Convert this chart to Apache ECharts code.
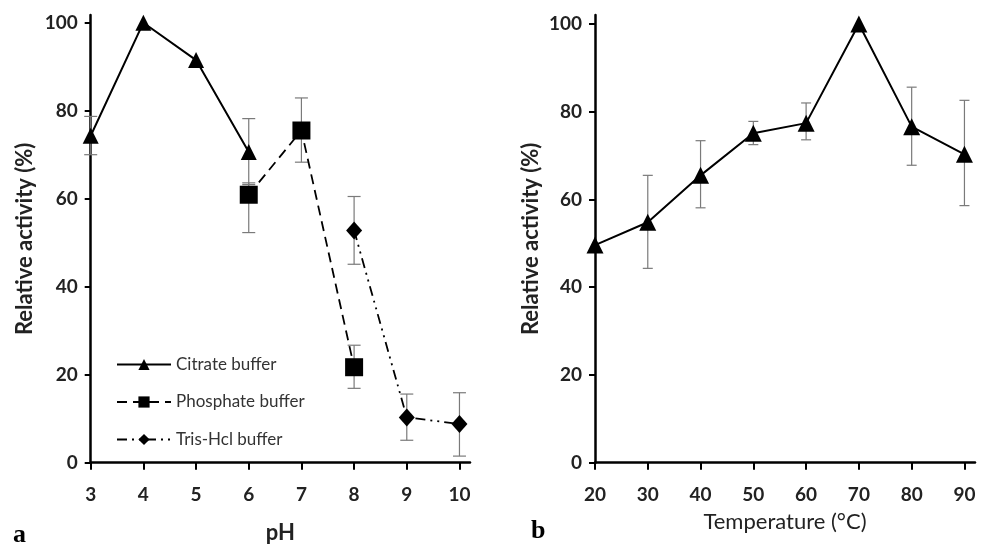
<!DOCTYPE html>
<html lang="en">
<head>
    <meta charset="UTF-8">
    <title>Relative activity vs pH and temperature</title>
    <script src="https://cdn.jsdelivr.net/npm/echarts/dist/echarts.min.js"></script>
    <style>
        html, body { margin: 0; padding: 0; background: #fff; }
        #chart { width: 986px; height: 545px; }
    </style>
</head>
<body>
<div id="chart"></div>

<script>
    // panel a: pH
    const citratePH = [3, 4, 5, 6];
    const citrateVal = [74.3, 100, 91.5, 70.6];
    const citrateLow = [70, 100, 91.5, 63.2];
    const citrateHigh = [78.7, 100, 91.5, 78.2];

    const phosphatePH = [6, 7, 8];
    const phosphateVal = [60.9, 75.5, 21.7];
    const phosphateLow = [52.3, 68.3, 16.9];
    const phosphateHigh = [63.6, 82.9, 26.7];

    const trisPH = [8, 9, 10];
    const trisVal = [52.8, 10.3, 8.8];
    const trisLow = [45.1, 5.1, 1.5];
    const trisHigh = [60.5, 15.6, 15.9];

    const phTicks = [3, 4, 5, 6, 7, 8, 9, 10];

    // panel b: temperature
    const temps = [20, 30, 40, 50, 60, 70, 80, 90];
    const tempVal = [49.6, 54.8, 65.5, 75.1, 77.4, 100, 76.6, 70.3];
    const tempLow = [49.6, 44.3, 58.1, 72.5, 73.6, 100, 67.8, 58.6];
    const tempHigh = [49.6, 65.5, 73.4, 77.8, 82.0, 100, 85.6, 82.6];

    const tempTicks = [20, 30, 40, 50, 60, 70, 80, 90];
    const activityTicks = [0, 20, 40, 60, 80, 100];

    const FONT = 'Lato, "Open Sans", sans-serif';

    function zip(xs, vs) {
        return xs.map((x, i) => [x, vs[i]]);
    }
    function errData(xs, lo, hi) {
        return xs.map((x, i) => [x, lo[i], hi[i]]);
    }

    function errorSeries(data, axisIdx, halfCap) {
        return {
            type: 'custom',
            xAxisIndex: axisIdx,
            yAxisIndex: axisIdx,
            z: 1,
            silent: true,
            data: data,
            encode: { x: 0, y: [1, 2] },
            renderItem: function (params, api) {
                const x = api.value(0);
                const lo = api.coord([x, api.value(1)]);
                const hi = api.coord([x, api.value(2)]);
                if (Math.abs(lo[1] - hi[1]) < 1) return null;
                const st = { stroke: '#7a7a7a', lineWidth: 1.2 };
                return {
                    type: 'group',
                    children: [
                        { type: 'line', shape: { x1: lo[0], y1: lo[1], x2: hi[0], y2: hi[1] }, style: st },
                        { type: 'line', shape: { x1: lo[0] - halfCap, y1: lo[1], x2: lo[0] + halfCap, y2: lo[1] }, style: st },
                        { type: 'line', shape: { x1: hi[0] - halfCap, y1: hi[1], x2: hi[0] + halfCap, y2: hi[1] }, style: st }
                    ]
                };
            }
        };
    }

    function yAxisCfg(gridIdx, max, nameGap) {
        return {
            type: 'value',
            gridIndex: gridIdx,
            min: 0,
            max: max,
            name: 'Relative activity (%)',
            nameLocation: 'middle',
            nameGap: nameGap,
            nameTextStyle: { fontFamily: FONT, fontSize: 22, fontWeight: 'bold', color: '#222' },
            splitLine: { show: false },
            axisLine: { show: true, lineStyle: { color: '#000', width: 2.5 } },
            axisTick: { show: true, length: 6, customValues: activityTicks, lineStyle: { color: '#000', width: 2 } },
            axisLabel: { customValues: activityTicks, margin: 13, fontFamily: FONT, fontSize: 19, fontWeight: 'bold', color: '#222' }
        };
    }

    const chart = echarts.init(document.getElementById('chart'));
    const option = {
        backgroundColor: '#fff',
        animation: false,
        grid: [
            { left: 90.7, top: 15, width: 379.3, height: 447.7, outerBoundsMode: 'none' },
            { left: 595, top: 15, width: 380, height: 447.7, outerBoundsMode: 'none' }
        ],
        legend: {
            left: 111,
            top: 351,
            orient: 'vertical',
            itemWidth: 54,
            itemHeight: 14,
            itemGap: 20.5,
            textStyle: { fontFamily: FONT, fontSize: 17, color: '#333' },
            data: ['Citrate buffer', 'Phosphate buffer', 'Tris-Hcl buffer']
        },
        xAxis: [
            {
                type: 'value',
                gridIndex: 0,
                min: 3,
                max: 10.2,
                name: 'pH',
                nameLocation: 'middle',
                nameGap: 59,
                nameTextStyle: { fontFamily: FONT, fontSize: 22, fontWeight: 'bold', color: '#222' },
                splitLine: { show: false },
                axisLine: { lineStyle: { color: '#000', width: 2.5 } },
                axisTick: { length: 7, customValues: phTicks, lineStyle: { color: '#000', width: 2 } },
                axisLabel: { customValues: phTicks, margin: 23, fontFamily: FONT, fontSize: 19, fontWeight: 'bold', color: '#222' }
            },
            {
                type: 'value',
                gridIndex: 1,
                min: 20,
                max: 92,
                name: 'Temperature (°C)',
                nameLocation: 'middle',
                nameGap: 48,
                nameTextStyle: { fontFamily: FONT, fontSize: 22, color: '#222' },
                splitLine: { show: false },
                axisLine: { lineStyle: { color: '#000', width: 2.5 } },
                axisTick: { length: 7, customValues: tempTicks, lineStyle: { color: '#000', width: 2 } },
                axisLabel: { customValues: tempTicks, margin: 23, fontFamily: FONT, fontSize: 19, fontWeight: 'bold', color: '#222' }
            }
        ],
        yAxis: [
            yAxisCfg(0, 101.75, 55),
            yAxisCfg(1, 102.05, 53)
        ],
        graphic: [
            { type: 'text', left: 13, top: 522, style: { text: 'a', font: 'bold 26px "Liberation Serif", "DejaVu Serif", serif', fill: '#000' } },
            { type: 'text', left: 531, top: 518, style: { text: 'b', font: 'bold 26px "Liberation Serif", "DejaVu Serif", serif', fill: '#000' } }
        ],
        series: [
            errorSeries(errData(citratePH, citrateLow, citrateHigh), 0, 6.5),
            errorSeries(errData(phosphatePH, phosphateLow, phosphateHigh), 0, 6.5),
            errorSeries(errData(trisPH, trisLow, trisHigh), 0, 6.5),
            errorSeries(errData(temps, tempLow, tempHigh), 1, 5),
            {
                name: 'Citrate buffer',
                type: 'line',
                xAxisIndex: 0,
                yAxisIndex: 0,
                z: 3,
                data: zip(citratePH, citrateVal),
                symbol: 'triangle',
                symbolSize: [16, 16],
                lineStyle: { color: '#000', width: 2 },
                itemStyle: { color: '#000' }
            },
            {
                name: 'Phosphate buffer',
                type: 'line',
                xAxisIndex: 0,
                yAxisIndex: 0,
                z: 3,
                data: zip(phosphatePH, phosphateVal),
                symbol: 'rect',
                symbolSize: 18,
                lineStyle: { color: '#000', width: 1.8, type: [10, 6] },
                itemStyle: { color: '#000' }
            },
            {
                name: 'Tris-Hcl buffer',
                type: 'line',
                xAxisIndex: 0,
                yAxisIndex: 0,
                z: 3,
                data: zip(trisPH, trisVal),
                symbol: 'diamond',
                symbolSize: [16, 18],
                lineStyle: { color: '#000', width: 1.8, type: [10, 5, 2, 5, 2, 5] },
                itemStyle: { color: '#000' }
            },
            {
                name: 'Temperature',
                type: 'line',
                xAxisIndex: 1,
                yAxisIndex: 1,
                z: 3,
                data: zip(temps, tempVal),
                symbol: 'triangle',
                symbolSize: [17, 17],
                lineStyle: { color: '#000', width: 2 },
                itemStyle: { color: '#000' }
            }
        ]
    };
    chart.setOption(option);
</script>
</body>
</html>
